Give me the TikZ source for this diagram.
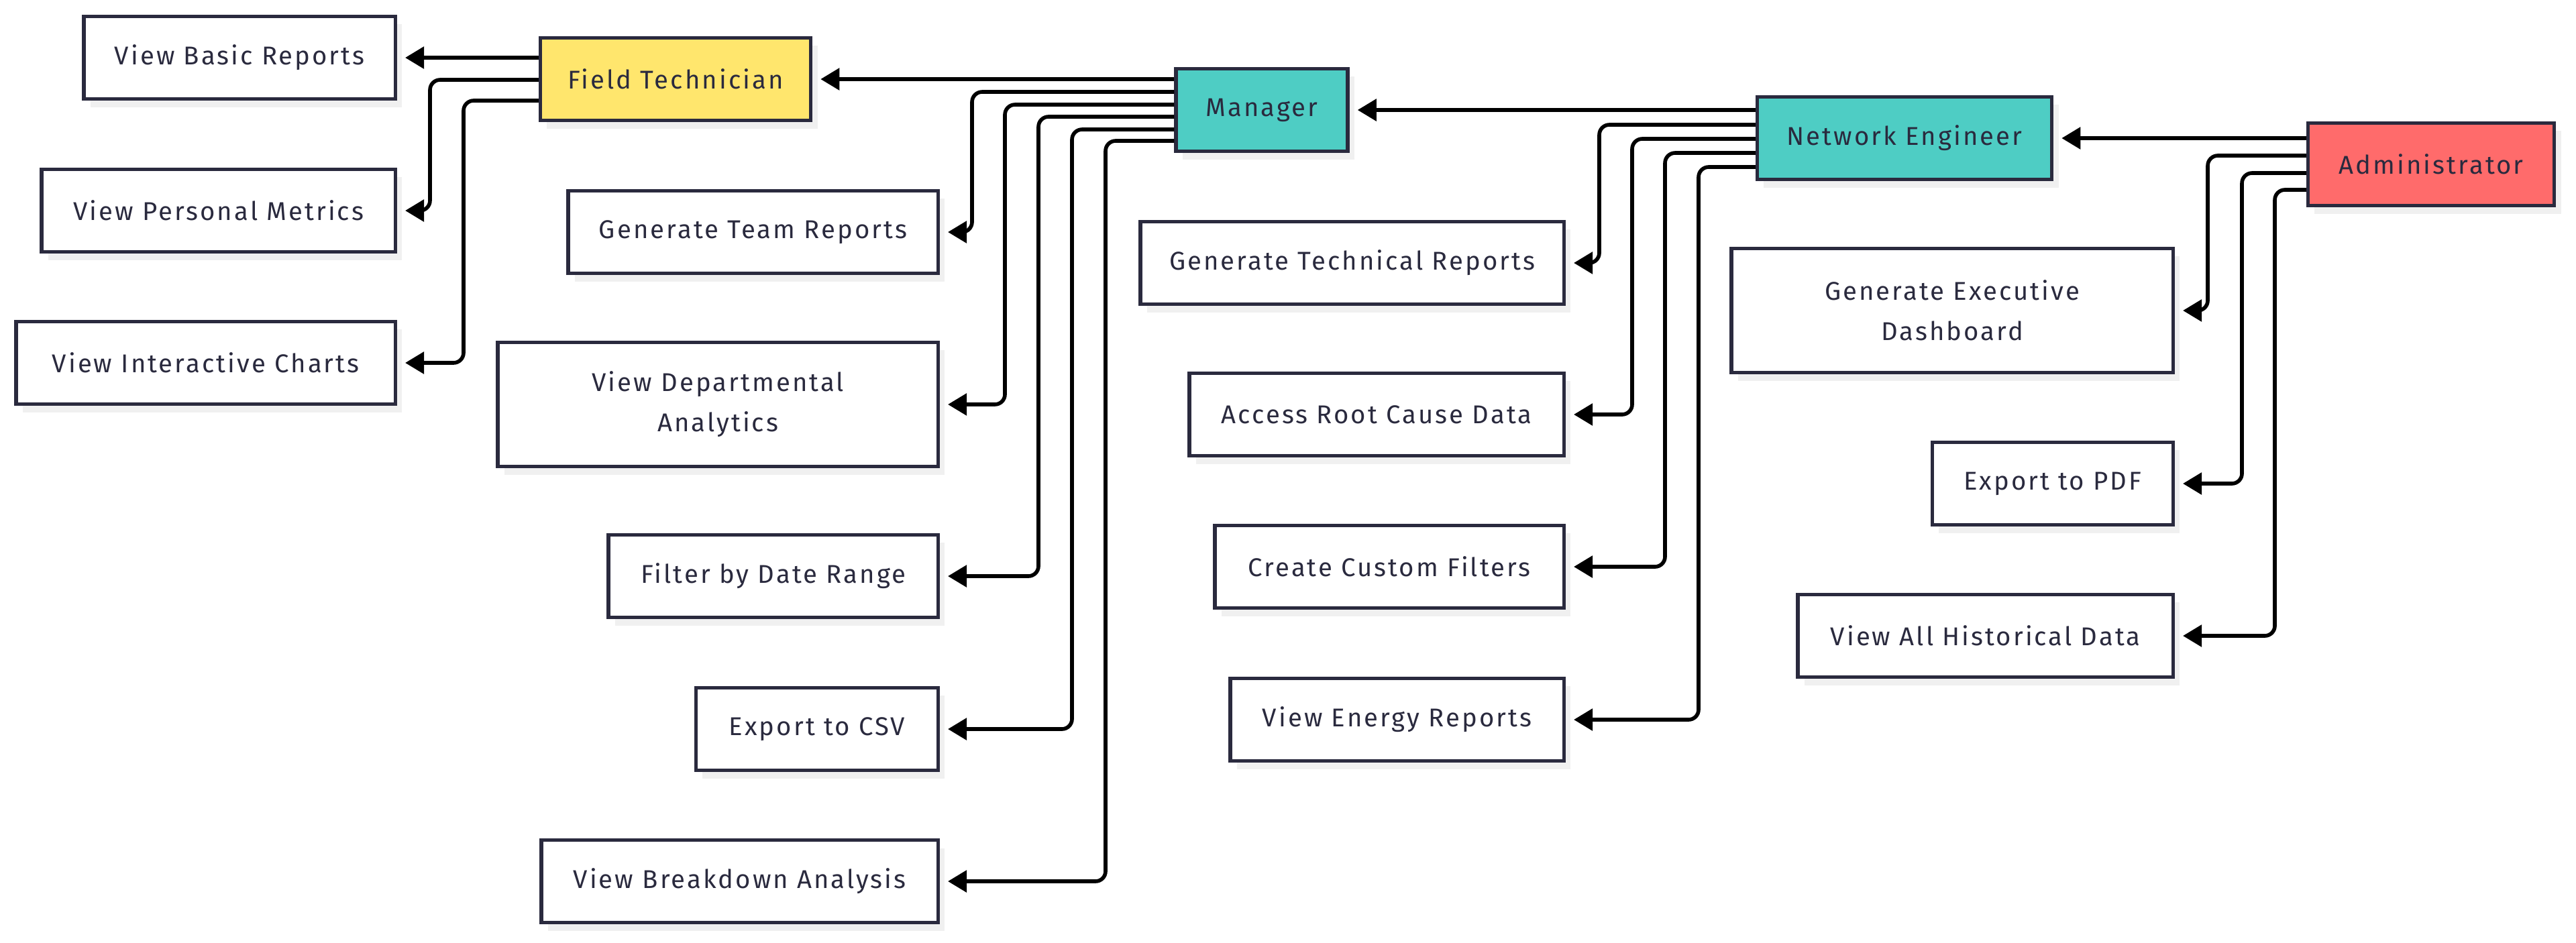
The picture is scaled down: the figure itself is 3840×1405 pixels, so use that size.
\documentclass[tikz,border=0pt]{standalone}
\usepackage{fontspec}
\setmainfont{Fira Sans}[LetterSpace=8]
\usetikzlibrary{arrows.meta,shadows}
\definecolor{ink}{HTML}{2A2A3E}
\definecolor{roleyellow}{HTML}{FFE66D}
\definecolor{roleteal}{HTML}{4ECDC4}
\definecolor{rolered}{HTML}{FF6B6B}

\begin{document}
\begin{tikzpicture}[x=0.01cm, y=-0.01cm,
    box/.style = {draw=ink, line width=1.5pt, text=ink, fill=white, minimum height=1.23cm, inner sep=0pt, align=center,
        font=\fontsize{10.9pt}{17pt}\selectfont,
        drop shadow={shadow xshift=0.1cm, shadow yshift=-0.12cm, fill=black!6, opacity=1}},
    tall/.style = {box, minimum height=1.85cm},
    link/.style = {line width=1.6pt, rounded corners=0.15cm, shorten >=0.12cm, -{Triangle[length=0.28cm,width=0.32cm]}}]
                \useasboundingbox (0,0) rectangle (3840,1405);
                \node[box, fill=rolered, minimum width=3.67cm] (admin) at (3624,245) {Administrator};
                \node[box, fill=roleteal, minimum width=4.39cm] (neteng) at (2839,206) {Network Engineer};
                \node[box, fill=roleteal, minimum width=2.56cm] (manager) at (1881,164) {Manager};
                \node[box, fill=roleyellow, minimum width=4.03cm] (fieldtech) at (1007,118) {Field Technician};
                \node[box, minimum width=4.64cm, anchor=east] (basic) at (592,86) {View Basic Reports};
                \node[box, minimum width=5.27cm, anchor=east] (personal) at (592,314) {View Personal Metrics};
                \node[box, minimum width=5.65cm, anchor=east] (charts) at (592,541) {View Interactive Charts};
                \node[box, minimum width=5.51cm, anchor=east] (teamrep) at (1401,346) {Generate Team Reports};
                \node[tall, minimum width=6.56cm, anchor=east] (dept) at (1401,603) {View Departmental\\Analytics};
                \node[box, minimum width=4.91cm, anchor=east] (daterange) at (1401,859) {Filter by Date Range};
                \node[box, minimum width=3.61cm, anchor=east] (csv) at (1401,1087) {Export to CSV};
                \node[box, minimum width=5.91cm, anchor=east] (breakdown) at (1401,1314) {View Breakdown Analysis};
                \node[box, minimum width=6.31cm, anchor=east] (techrep) at (2334,392) {Generate Technical Reports};
                \node[box, minimum width=5.58cm, anchor=east] (rootcause) at (2334,618) {Access Root Cause Data};
                \node[box, minimum width=5.20cm, anchor=east] (filters) at (2334,845) {Create Custom Filters};
                \node[box, minimum width=4.97cm, anchor=east] (energy) at (2334,1073) {View Energy Reports};
                \node[tall, minimum width=6.58cm, anchor=east] (execdash) at (3242,463) {Generate Executive\\Dashboard};
                \node[box, minimum width=3.59cm, anchor=east] (pdf) at (3242,721) {Export to PDF};
                \node[box, minimum width=5.59cm, anchor=east] (history) at (3242,948) {View All Historical Data};
                \draw[link] (admin.west |- neteng.east) -- (neteng.east);
                \draw[link] (admin.west |- 0,232) -| (3291,0 |- execdash.east) -- (execdash.east);
                \draw[link] (admin.west |- 0,258) -| (3342,0 |- pdf.east) -- (pdf.east);
                \draw[link] (admin.west |- 0,283) -| (3391,0 |- history.east) -- (history.east);
                \draw[link] (neteng.west |- manager.east) -- (manager.east);
                \draw[link] (neteng.west |- 0,186) -| (2384,0 |- techrep.east) -- (techrep.east);
                \draw[link] (neteng.west |- 0,207) -| (2433,0 |- rootcause.east) -- (rootcause.east);
                \draw[link] (neteng.west |- 0,228) -| (2482,0 |- filters.east) -- (filters.east);
                \draw[link] (neteng.west |- 0,249) -| (2532,0 |- energy.east) -- (energy.east);
                \draw[link] (manager.west |- fieldtech.east) -- (fieldtech.east);
                \draw[link] (manager.west |- 0,137) -| (1449,0 |- teamrep.east) -- (teamrep.east);
                \draw[link] (manager.west |- 0,156) -| (1498,0 |- dept.east) -- (dept.east);
                \draw[link] (manager.west |- 0,174) -| (1548,0 |- daterange.east) -- (daterange.east);
                \draw[link] (manager.west |- 0,193) -| (1598,0 |- csv.east) -- (csv.east);
                \draw[link] (manager.west |- 0,210) -| (1648,0 |- breakdown.east) -- (breakdown.east);
                \draw[link] (fieldtech.west |- basic.east) -- (basic.east);
                \draw[link] (fieldtech.west |- 0,119) -| (641,0 |- personal.east) -- (personal.east);
                \draw[link] (fieldtech.west |- 0,150) -| (691,0 |- charts.east) -- (charts.east);
            \end{tikzpicture}
\end{document}
